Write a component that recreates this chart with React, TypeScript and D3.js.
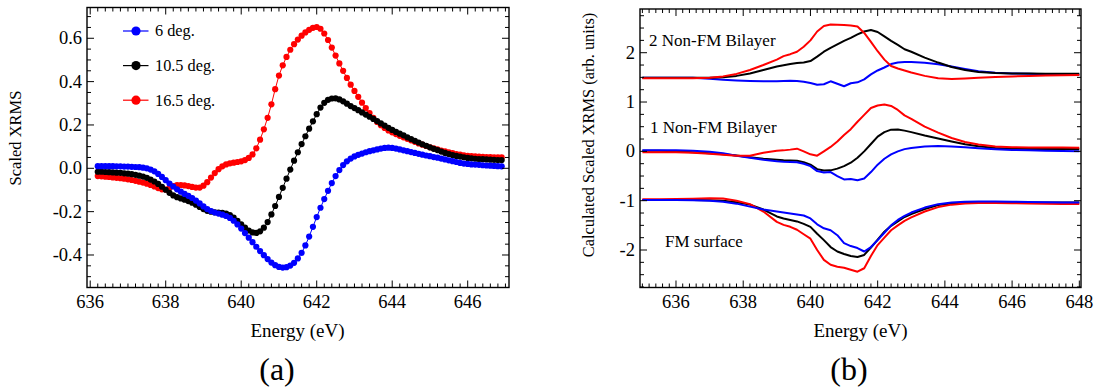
import React from 'react';
import * as d3 from 'd3';

// ---------- Panel (a): measured XRMS, 0.1 eV sampling from 636.2 eV ----------
const expStart = 636.2;
const expStep = 0.1;
const exp6deg = [
  0.010, 0.010, 0.010, 0.010, 0.010, 0.009, 0.009, 0.008, 0.008, 0.007,
  0.006, 0.005, 0.003, 0.000, -0.006, -0.014, -0.026, -0.040, -0.055, -0.070,
  -0.084, -0.097, -0.108, -0.118, -0.127, -0.137, -0.149, -0.162, -0.176, -0.188,
  -0.197, -0.204, -0.209, -0.214, -0.220, -0.229, -0.242, -0.259, -0.278, -0.299,
  -0.320, -0.341, -0.362, -0.382, -0.401, -0.419, -0.435, -0.447, -0.455, -0.458,
  -0.456, -0.449, -0.436, -0.416, -0.390, -0.356, -0.315, -0.270, -0.225, -0.182,
  -0.142, -0.104, -0.068, -0.036, -0.008, 0.015, 0.032, 0.045, 0.055, 0.062,
  0.068, 0.074, 0.079, 0.083, 0.087, 0.091, 0.094, 0.095, 0.094, 0.091,
  0.087, 0.083, 0.079, 0.075, 0.071, 0.067, 0.063, 0.059, 0.056, 0.052,
  0.049, 0.045, 0.041, 0.037, 0.033, 0.029, 0.025, 0.022, 0.020, 0.018,
  0.017, 0.016, 0.014, 0.013, 0.012, 0.011, 0.010, 0.009,
];
const exp10deg = [
  -0.016, -0.016, -0.017, -0.018, -0.019, -0.020, -0.021, -0.023, -0.025, -0.027,
  -0.030, -0.034, -0.038, -0.044, -0.052, -0.061, -0.072, -0.085, -0.099, -0.113,
  -0.125, -0.133, -0.139, -0.145, -0.151, -0.159, -0.168, -0.178, -0.188, -0.196,
  -0.200, -0.203, -0.204, -0.206, -0.209, -0.216, -0.228, -0.243, -0.259, -0.274,
  -0.287, -0.296, -0.298, -0.291, -0.274, -0.248, -0.213, -0.174, -0.132, -0.090,
  -0.048, -0.006, 0.035, 0.074, 0.112, 0.148, 0.183, 0.217, 0.250, 0.280,
  0.302, 0.316, 0.322, 0.323, 0.318, 0.309, 0.298, 0.287, 0.278, 0.268,
  0.258, 0.248, 0.238, 0.228, 0.218, 0.207, 0.197, 0.187, 0.177, 0.168,
  0.160, 0.152, 0.143, 0.135, 0.127, 0.119, 0.111, 0.104, 0.097, 0.090,
  0.084, 0.077, 0.071, 0.066, 0.061, 0.057, 0.054, 0.051, 0.048, 0.046,
  0.044, 0.043, 0.042, 0.041, 0.040, 0.039, 0.038, 0.038,
];
const exp16deg = [
  -0.036, -0.037, -0.039, -0.040, -0.042, -0.044, -0.046, -0.048, -0.051, -0.054,
  -0.058, -0.062, -0.066, -0.071, -0.077, -0.084, -0.091, -0.097, -0.098, -0.090,
  -0.082, -0.078, -0.077, -0.079, -0.082, -0.086, -0.089, -0.089, -0.080, -0.064,
  -0.043, -0.022, -0.004, 0.009, 0.018, 0.023, 0.026, 0.029, 0.032, 0.038,
  0.048, 0.064, 0.092, 0.132, 0.180, 0.233, 0.295, 0.365, 0.428, 0.475,
  0.514, 0.547, 0.573, 0.594, 0.612, 0.627, 0.639, 0.648, 0.652, 0.644,
  0.622, 0.592, 0.557, 0.520, 0.484, 0.450, 0.417, 0.386, 0.357, 0.330,
  0.303, 0.278, 0.255, 0.233, 0.214, 0.199, 0.186, 0.175, 0.166, 0.158,
  0.150, 0.143, 0.136, 0.129, 0.122, 0.115, 0.109, 0.103, 0.097, 0.092,
  0.087, 0.082, 0.078, 0.074, 0.070, 0.066, 0.063, 0.060, 0.058, 0.056,
  0.055, 0.054, 0.053, 0.052, 0.052, 0.051, 0.051, 0.050,
];
const legendLabels = ['6 deg.', '10.5 deg.', '16.5 deg.'];
const expColors = ['#0000ff', '#000000', '#ff0000'];

// ---------- Panel (b): calculated spectra ----------
const calcEnergy = [
  635, 635.5, 636, 636.5, 637, 637.4, 637.8, 638.2, 638.6, 639.0, 639.2, 639.4, 639.6, 639.8,
  640.0, 640.2, 640.4, 640.6, 640.8, 641.0, 641.2, 641.4, 641.6, 641.8, 642.0, 642.2, 642.4,
  642.6, 642.8, 643.0, 643.4, 643.8, 644.2, 644.6, 645.0, 645.5, 646.0, 646.5, 647.0, 647.5, 648.0,
];
const bi2Black = [
  1.49, 1.49, 1.49, 1.49, 1.49, 1.50, 1.53, 1.58, 1.65, 1.72, 1.745, 1.77, 1.79, 1.80,
  1.83, 1.92, 2.02, 2.10, 2.17, 2.24, 2.30, 2.37, 2.43, 2.46, 2.42, 2.33, 2.24,
  2.16, 2.07, 2.02, 1.90, 1.80, 1.71, 1.65, 1.61, 1.59, 1.58, 1.576, 1.575, 1.575, 1.575,
];
const bi2Red = [
  1.48, 1.48, 1.48, 1.48, 1.49, 1.52, 1.57, 1.65, 1.75, 1.86, 1.93, 1.97, 2.02, 2.12,
  2.25, 2.43, 2.54, 2.57, 2.565, 2.56, 2.55, 2.53, 2.40, 2.22, 2.03, 1.86, 1.73,
  1.68, 1.64, 1.60, 1.53, 1.48, 1.465, 1.475, 1.49, 1.505, 1.52, 1.53, 1.54, 1.545, 1.55,
];
const bi2Blue = [
  1.49, 1.49, 1.49, 1.49, 1.47, 1.45, 1.435, 1.425, 1.42, 1.42, 1.425, 1.43, 1.425, 1.41,
  1.385, 1.35, 1.36, 1.42, 1.37, 1.32, 1.38, 1.40, 1.46, 1.56, 1.64, 1.70, 1.77,
  1.80, 1.81, 1.81, 1.795, 1.765, 1.72, 1.67, 1.625, 1.595, 1.58, 1.575, 1.565, 1.56, 1.555,
];
const bi1Black = [
  0.01, 0.01, 0.0, -0.02, -0.04, -0.06, -0.085, -0.12, -0.15, -0.17, -0.18, -0.185, -0.19, -0.22,
  -0.27, -0.36, -0.39, -0.385, -0.35, -0.30, -0.23, -0.13, 0.0, 0.15, 0.30, 0.39, 0.44,
  0.445, 0.42, 0.39, 0.32, 0.26, 0.20, 0.145, 0.105, 0.07, 0.055, 0.05, 0.05, 0.05, 0.05,
];
const bi1Red = [
  -0.02, -0.02, -0.02, -0.03, -0.05, -0.07, -0.09, -0.09, -0.03, 0.01, 0.02, 0.035, 0.055, 0.0,
  -0.06, -0.087, 0.0, 0.09, 0.20, 0.33, 0.45, 0.60, 0.74, 0.88, 0.93, 0.95, 0.92,
  0.84, 0.73, 0.66, 0.50, 0.38, 0.27, 0.19, 0.14, 0.10, 0.085, 0.08, 0.078, 0.076, 0.075,
];
const bi1Blue = [
  0.02, 0.02, 0.02, 0.01, -0.01, -0.04, -0.09, -0.13, -0.17, -0.20, -0.21, -0.215, -0.22, -0.25,
  -0.30, -0.40, -0.43, -0.42, -0.50, -0.57, -0.56, -0.585, -0.55, -0.42, -0.27, -0.15, -0.06,
  0.0, 0.045, 0.07, 0.10, 0.11, 0.10, 0.085, 0.065, 0.045, 0.03, 0.02, 0.01, 0.005, 0.0,
];
const fmRed = [
  -0.97, -0.97, -0.965, -0.96, -0.95, -0.955, -1.0, -1.07, -1.22, -1.43, -1.49, -1.53, -1.59, -1.68,
  -1.77, -2.0, -2.2, -2.3, -2.34, -2.36, -2.40, -2.44, -2.37, -2.12, -1.90, -1.75, -1.60,
  -1.50, -1.41, -1.34, -1.22, -1.13, -1.08, -1.055, -1.047, -1.047, -1.05, -1.055, -1.06, -1.065, -1.067,
];
const fmBlack = [
  -0.985, -0.985, -0.985, -0.985, -0.99, -1.0, -1.03, -1.08, -1.18, -1.32, -1.36, -1.39, -1.42, -1.47,
  -1.53, -1.67, -1.80, -1.94, -2.03, -2.08, -2.12, -2.14, -2.10, -1.95, -1.79, -1.63, -1.51,
  -1.42, -1.33, -1.27, -1.17, -1.09, -1.055, -1.04, -1.035, -1.035, -1.035, -1.035, -1.035, -1.035, -1.035,
];
const fmBlue = [
  -0.985, -0.985, -0.985, -0.99, -1.0, -1.02, -1.06, -1.12, -1.18, -1.22, -1.24, -1.26, -1.28, -1.30,
  -1.36, -1.48, -1.56, -1.60, -1.70, -1.86, -1.92, -1.96, -2.03, -1.94, -1.80, -1.65, -1.50,
  -1.39, -1.31, -1.24, -1.14, -1.07, -1.035, -1.02, -1.015, -1.015, -1.02, -1.025, -1.03, -1.035, -1.035,
];
const groupLabels = ['2 Non-FM Bilayer', '1 Non-FM Bilayer', 'FM surface'];

// ---------- ticks ----------
const xTicksA = [636, 638, 640, 642, 644, 646];
const yTicksA = [-0.4, -0.2, 0, 0.2, 0.4, 0.6];
const yTickLabelsA = ['-0.4', '-0.2', '0.0', '0.2', '0.4', '0.6'];
const xTicksB = [636, 638, 640, 642, 644, 646, 648];
const yTicksB = [-2, -1, 0, 1, 2];
const yTickLabelsB = ['-2', '-1', '0', '1', '2'];

const FONT = '"Liberation Serif", Tinos, "Nimbus Roman", "Nimbus Roman No9 L", FreeSerif, "Noto Serif", "DejaVu Serif", "Times New Roman", Times, serif';
const txt = (size: number): any => ({ fontFamily: FONT, fontSize: size + 'px' });

function minorTicks(d0: number, d1: number, per: number) {
  const out: number[] = [];
  for (let k = Math.ceil(Math.min(d0, d1) * per); k <= Math.floor(Math.max(d0, d1) * per); k++) out.push(k / per);
  return out;
}

function Frame({ x, y, xMajor, yMajor, xLabels, yLabels, xPer, yPer }: any) {
  const [x0, x1] = x.range();
  const [y0, y1] = y.range(); // y0 bottom, y1 top
  const xd = x.domain();
  const yd = y.domain();
  const xm = minorTicks(xd[0], xd[1], xPer);
  const ym = minorTicks(yd[0], yd[1], yPer);
  const isMajor = (v: number, arr: number[]) => arr.some((a) => Math.abs(a - v) < 1e-6);
  const els: any[] = [];
  xm.forEach((v, i) => {
    const L = isMajor(v, xMajor) ? 7 : 4;
    const px = x(v);
    els.push(<line key={'xb' + i} x1={px} x2={px} y1={y0} y2={y0 - L} stroke="#000" strokeWidth={1} />);
    els.push(<line key={'xt' + i} x1={px} x2={px} y1={y1} y2={y1 + L} stroke="#000" strokeWidth={1} />);
  });
  ym.forEach((v, i) => {
    const L = isMajor(v, yMajor) ? 7 : 4;
    const py = y(v);
    els.push(<line key={'yl' + i} x1={x0} x2={x0 + L} y1={py} y2={py} stroke="#000" strokeWidth={1} />);
    els.push(<line key={'yr' + i} x1={x1} x2={x1 - L} y1={py} y2={py} stroke="#000" strokeWidth={1} />);
  });
  return (
    <g>
      {els}
      <rect x={x0} y={y1} width={x1 - x0} height={y0 - y1} fill="none" stroke="#000" strokeWidth={1.4} />
      {xMajor.map((v: number, i: number) => (
        <text key={'xl' + i} x={x(v)} y={308} textAnchor="middle" style={txt(18.5)}>{xLabels[i]}</text>
      ))}
      {yMajor.map((v: number, i: number) => (
        <text key={'ylab' + i} x={x0 - 5} y={y(v)} dy="0.33em" textAnchor="end" style={txt(18.5)}>{yLabels[i]}</text>
      ))}
    </g>
  );
}

export default function App() {
  // Panel (a)
  const xA = d3.scaleLinear().domain([635.915, 647.094]).range([87, 509]);
  const yA = d3.scaleLinear().domain([-0.55, 0.742]).range([287.5, 7.5]);
  const expSeries = [exp16deg, exp10deg, exp6deg];
  const expSeriesColors = [expColors[2], expColors[1], expColors[0]];
  const lineA = d3.line<[number, number]>().x((d) => xA(d[0])).y((d) => yA(d[1]));

  // Panel (b)
  const xB = d3.scaleLinear().domain([634.929, 648.05]).range([640, 1081]);
  const yB = d3.scaleLinear().domain([-2.76, 2.886]).range([287.5, 9]);
  const lineB = d3.line<number>().x((_, i) => xB(calcEnergy[i])).y((d) => yB(d));
  const calcSets: [number[], string][] = [
    [fmBlack, '#000'], [fmRed, '#ff0000'], [fmBlue, '#0000ff'],
    [bi1Black, '#000'], [bi1Blue, '#0000ff'], [bi1Red, '#ff0000'],
    [bi2Blue, '#0000ff'], [bi2Black, '#000'], [bi2Red, '#ff0000'],
  ];

  return (
    <svg width={1095} height={392} style={{ position: 'absolute', left: 0, top: 0, background: '#fff' }}>
      <rect width={1095} height={392} fill="#fff" />
      <defs>
        <clipPath id="clipA"><rect x={87} y={7.5} width={422} height={280} /></clipPath>
        <clipPath id="clipB"><rect x={640} y={9} width={441} height={278.5} /></clipPath>
      </defs>
      {/* Panel (a) */}
      <g clipPath="url(#clipA)">
        {expSeries.map((vals, s) => {
          const pts: [number, number][] = vals.map((v, i) => [expStart + i * expStep, v]);
          return (
            <g key={'s' + s}>
              <path d={lineA(pts) || ''} fill="none" stroke={expSeriesColors[s]} strokeWidth={1} />
              {pts.map((p, i) => (
                <circle key={i} cx={xA(p[0])} cy={yA(p[1])} r={3.1} fill={expSeriesColors[s]} />
              ))}
            </g>
          );
        })}
      </g>
      <Frame x={xA} y={yA} xMajor={xTicksA} yMajor={yTicksA} xLabels={xTicksA.map(String)} yLabels={yTickLabelsA} xPer={5} yPer={20} />
      {legendLabels.map((lab, i) => {
        const cy = 31 + i * 34.6;
        return (
          <g key={'lg' + i}>
            <line x1={123} x2={148.5} y1={cy} y2={cy} stroke={expColors[i]} strokeWidth={1.2} />
            <circle cx={136} cy={cy} r={4.6} fill={expColors[i]} />
            <text x={155} y={cy + 5.3} style={txt(16.3)}>{lab}</text>
          </g>
        );
      })}
      <text transform="translate(21,138) rotate(-90)" textAnchor="middle" style={txt(16.5)}>Scaled XRMS</text>
      <text x={297.5} y={336.5} textAnchor="middle" style={txt(19)}>Energy (eV)</text>
      <text x={277} y={380} textAnchor="middle" style={txt(32)}>(a)</text>

      {/* Panel (b) */}
      <g clipPath="url(#clipB)">
        {calcSets.map(([vals, col], i) => (
          <path key={'c' + i} d={lineB(vals) || ''} fill="none" stroke={col} strokeWidth={2} strokeLinejoin="round" />
        ))}
      </g>
      <Frame x={xB} y={yB} xMajor={xTicksB} yMajor={yTicksB} xLabels={xTicksB.map(String)} yLabels={yTickLabelsB} xPer={5} yPer={4} />
      <text x={649} y={46} style={txt(17)}>{groupLabels[0]}</text>
      <text x={650} y={132.5} style={txt(17)}>{groupLabels[1]}</text>
      <text x={665} y={246.5} style={txt(17)}>{groupLabels[2]}</text>
      <text transform="translate(594,135) rotate(-90)" textAnchor="middle" style={txt(16.4)}>Calculated Scaled XRMS (arb. units)</text>
      <text x={860.5} y={336.5} textAnchor="middle" style={txt(19)}>Energy (eV)</text>
      <text x={849} y={380} textAnchor="middle" style={txt(32)}>(b)</text>
    </svg>
  );
}
